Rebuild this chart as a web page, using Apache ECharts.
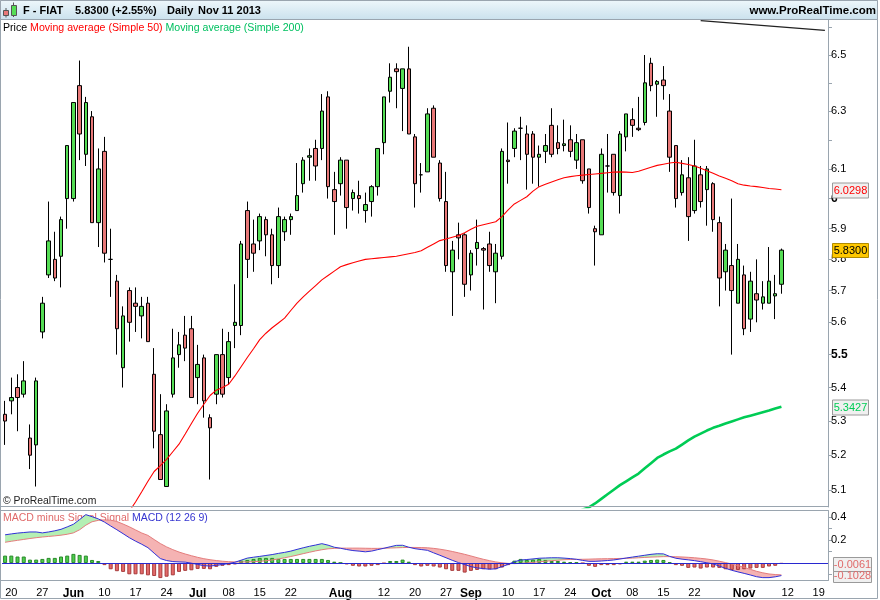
<!DOCTYPE html>
<html><head><meta charset="utf-8">
<script src="https://cdn.jsdelivr.net/npm/echarts@6.0.0/dist/echarts.min.js"></script>
<style>html,body{margin:0;padding:0;background:#fff}#c{width:880px;height:600px}</style>
</head><body><div id="c"></div>
<script>
// ---------- DATA ----------
const dates = [
'05-17','05-20','05-21','05-22','05-23','05-24','05-27','05-28','05-29','05-30','05-31',
'06-03','06-04','06-05','06-06','06-07','06-10','06-11','06-12','06-13','06-14','06-17','06-18','06-19','06-20','06-21','06-24','06-25','06-26','06-27','06-28',
'07-01','07-02','07-03','07-04','07-05','07-08','07-09','07-10','07-11','07-12','07-15','07-16','07-17','07-18','07-19','07-22','07-23','07-24','07-25','07-26','07-29','07-30','07-31',
'08-01','08-02','08-05','08-06','08-07','08-08','08-09','08-12','08-13','08-14','08-16','08-19','08-20','08-21','08-22','08-23','08-26','08-27','08-28','08-29','08-30',
'09-02','09-03','09-04','09-05','09-06','09-09','09-10','09-11','09-12','09-13','09-16','09-17','09-18','09-19','09-20','09-23','09-24','09-25','09-26','09-27','09-30',
'10-01','10-02','10-03','10-04','10-07','10-08','10-09','10-10','10-11','10-14','10-15','10-16','10-17','10-18','10-21','10-22','10-23','10-24','10-25','10-28','10-29','10-30','10-31',
'11-01','11-04','11-05','11-06','11-07','11-08','11-11',
'11-12','11-13','11-14','11-15','11-18','11-19','11-20'];

const opens = [5.32,5.36,5.40,5.38,5.25,5.23,5.57,5.75,5.80,5.81,
6.00,6.00,6.39,6.15,6.28,5.92,6.16,5.80,5.73,5.46,
5.70,5.66,5.62,5.66,5.44,5.26,5.11,5.38,5.50,5.56,
5.58,5.43,5.49,5.31,5.38,5.50,5.43,5.59,5.59,5.96,
5.85,5.86,5.93,5.88,5.78,5.89,5.93,5.96,6.05,6.14,
6.17,6.17,6.35,6.03,6.05,6.13,6.00,6.01,5.96,5.99,
6.04,6.19,6.37,6.45,6.38,6.45,6.21,6.08,6.09,6.31,
6.12,5.99,5.76,5.88,5.88,5.75,5.835,5.835,5.85,5.76,
5.81,6.13,6.17,6.24,6.22,6.22,6.14,6.16,6.25,6.19,
6.18,6.20,6.13,6.20,6.10,5.90,5.88,6.11,6.15,6.01,
6.21,6.27,6.24,6.26,6.47,6.395,6.41,6.30,6.18,6.02,
6.07,5.96,6.08,6.03,6.05,5.92,5.76,5.78,5.66,5.75,
5.61,5.69,5.66,5.66,5.683,5.72];
const highs = [5.36,5.43,5.44,5.48,5.29,5.43,5.68,5.99,5.89,5.94,
6.18,6.33,6.48,6.35,6.30,6.17,6.21,5.90,5.75,5.65,
5.71,5.71,5.68,5.68,5.52,5.38,5.35,5.58,5.57,5.62,
5.62,5.53,5.50,5.32,5.50,5.58,5.57,5.72,5.86,5.99,
5.93,5.95,5.94,5.90,5.97,5.94,5.95,6.12,6.14,6.17,
6.20,6.36,6.37,6.09,6.14,6.13,6.03,6.06,6.02,6.045,
6.17,6.35,6.47,6.47,6.45,6.53,6.22,6.12,6.31,6.32,
6.13,6.09,5.86,5.92,5.885,5.83,5.93,5.84,5.89,5.85,
6.17,6.26,6.24,6.28,6.25,6.23,6.18,6.22,6.31,6.25,
6.27,6.25,6.22,6.20,6.10,5.91,6.17,6.22,6.15,6.23,
6.29,6.31,6.35,6.50,6.49,6.41,6.46,6.36,6.18,6.13,
6.14,6.20,6.11,6.11,6.055,5.94,5.85,6.00,5.85,5.78,
5.76,5.80,5.73,5.84,5.75,5.835];
const lows = [5.23,5.32,5.27,5.37,5.16,5.11,5.55,5.74,5.73,5.71,
5.90,5.99,6.13,6.11,5.92,5.84,5.79,5.68,5.50,5.40,
5.54,5.57,5.55,5.54,5.22,5.13,5.11,5.37,5.46,5.48,
5.37,5.35,5.31,5.13,5.35,5.37,5.41,5.52,5.56,5.74,
5.76,5.83,5.81,5.72,5.74,5.86,5.88,5.96,6.02,6.06,
6.06,6.13,6.00,5.88,6.01,5.90,5.96,5.95,5.92,5.94,
6.01,6.15,6.33,6.31,6.23,6.22,5.97,6.02,6.09,6.14,
5.99,5.76,5.62,5.80,5.68,5.70,5.78,5.64,5.76,5.66,
5.80,6.05,6.14,6.13,6.03,6.05,6.04,6.12,6.14,6.15,
6.16,6.14,6.10,6.05,5.95,5.78,5.88,6.02,6.01,5.95,
6.16,6.21,6.23,6.25,6.37,6.28,6.34,6.09,5.97,6.01,
5.86,5.95,5.97,5.91,5.89,5.65,5.70,5.50,5.66,5.56,
5.57,5.60,5.64,5.66,5.61,5.69];
const closes = [5.30,5.37,5.37,5.42,5.20,5.42,5.66,5.86,5.74,5.93,
6.18,6.33,6.22,6.33,5.92,6.10,5.82,5.80,5.58,5.62,
5.60,5.65,5.65,5.54,5.27,5.13,5.33,5.49,5.53,5.52,
5.37,5.47,5.36,5.28,5.50,5.38,5.54,5.60,5.85,5.80,
5.82,5.94,5.88,5.78,5.94,5.93,5.94,6.01,6.13,6.145,
6.11,6.30,6.04,5.99,6.13,5.97,6.02,6.00,5.98,6.04,
6.17,6.35,6.42,6.44,6.45,6.22,6.05,6.08,6.29,6.14,
6.00,5.78,5.83,5.87,5.72,5.82,5.855,5.83,5.78,5.82,
6.16,6.125,6.23,6.24,6.15,6.14,6.15,6.18,6.15,6.17,
6.186,6.16,6.19,6.06,5.97,5.89,6.15,6.11,6.02,6.22,
6.29,6.25,6.235,6.40,6.39,6.405,6.39,6.14,6.00,6.08,
5.94,6.11,5.99,6.10,5.93,5.74,5.83,5.70,5.80,5.58,
5.73,5.67,5.68,5.73,5.69,5.83];

const ma50 = [null,null,null,null,null,null,null,null,null,null,
null,null,null,null,null,null,null,null,null,5.01,
5.040,5.066,5.095,5.125,5.153,5.170,5.188,5.210,5.232,5.262,
5.293,5.323,5.350,5.376,5.392,5.400,5.410,5.435,5.463,5.491,
5.518,5.546,5.566,5.583,5.598,5.613,5.637,5.660,5.680,5.698,
5.716,5.734,5.748,5.762,5.776,5.783,5.789,5.795,5.800,5.802,
5.804,5.806,5.808,5.810,5.814,5.818,5.822,5.828,5.839,5.850,
5.861,5.866,5.872,5.878,5.887,5.898,5.908,5.913,5.918,5.923,
5.940,5.962,5.982,5.994,6.006,6.025,6.040,6.048,6.056,6.063,
6.070,6.074,6.077,6.079,6.081,6.083,6.085,6.087,6.089,6.090,
6.089,6.088,6.092,6.099,6.106,6.112,6.116,6.120,6.123,6.119,
6.115,6.110,6.102,6.094,6.085,6.076,6.068,6.060,6.050,6.045,
6.042,6.040,6.037,6.034,6.032,6.0298];

const ma200 = [null,null,null,null,null,null,null,null,null,null,
null,null,null,null,null,null,null,null,null,null,
null,null,null,null,null,null,null,null,null,null,
null,null,null,null,null,null,null,null,null,null,
null,null,null,null,null,null,null,null,null,null,
null,null,null,null,null,null,null,null,null,null,
null,null,null,null,null,null,null,null,null,null,
null,null,null,null,null,null,null,null,null,null,
null,null,null,null,null,null,null,null,null,null,
null,null,5.035,5.045,5.051,5.062,5.075,5.088,5.101,5.114,
5.125,5.136,5.147,5.162,5.177,5.192,5.202,5.211,5.219,5.231,
5.243,5.254,5.263,5.272,5.280,5.286,5.293,5.299,5.305,5.311,
5.316,5.321,5.326,5.331,5.337,5.3427];

const macd = [0.246,0.254,0.261,0.266,0.271,0.271,0.263,0.271,0.281,0.294,
0.315,0.338,0.379,0.422,0.404,0.385,0.357,0.323,0.290,0.256,
0.221,0.191,0.164,0.134,0.086,0.039,0.022,0.013,0.010,0.008,
-0.001,-0.012,-0.023,-0.026,-0.020,-0.013,-0.004,0.007,0.025,0.043,
0.051,0.058,0.066,0.074,0.084,0.093,0.104,0.119,0.133,0.146,
0.157,0.169,0.156,0.138,0.129,0.118,0.109,0.104,0.098,0.104,
0.117,0.129,0.142,0.154,0.155,0.138,0.125,0.118,0.111,0.089,
0.068,0.046,0.024,0.004,-0.013,-0.031,-0.042,-0.048,-0.054,-0.050,
-0.031,-0.012,0.012,0.026,0.031,0.036,0.042,0.044,0.046,0.046,
0.043,0.039,0.033,0.023,0.015,0.015,0.018,0.022,0.027,0.035,
0.044,0.052,0.060,0.068,0.076,0.081,0.080,0.058,0.042,0.034,
0.028,0.021,0.012,0.002,-0.007,-0.027,-0.046,-0.063,-0.077,-0.090,
-0.104,-0.119,-0.127,-0.127,-0.120,-0.109];

const signal = [0.181,0.190,0.198,0.206,0.214,0.221,0.227,0.232,0.237,0.243,
0.251,0.263,0.290,0.330,0.360,0.372,0.376,0.374,0.362,0.340,
0.316,0.289,0.262,0.241,0.205,0.170,0.141,0.117,0.096,0.079,
0.064,0.050,0.038,0.029,0.022,0.016,0.012,0.010,0.009,0.010,
0.012,0.015,0.020,0.027,0.036,0.046,0.057,0.069,0.082,0.094,
0.106,0.116,0.124,0.128,0.130,0.130,0.130,0.130,0.129,0.128,
0.128,0.129,0.131,0.133,0.135,0.136,0.136,0.135,0.133,0.128,
0.121,0.112,0.101,0.089,0.076,0.062,0.047,0.033,0.021,0.010,
0.002,-0.003,-0.005,-0.003,0.001,0.006,0.011,0.016,0.021,0.025,
0.029,0.031,0.032,0.033,0.034,0.036,0.037,0.038,0.039,0.040,
0.041,0.043,0.046,0.049,0.052,0.054,0.056,0.056,0.055,0.053,
0.050,0.046,0.041,0.035,0.027,0.016,0.004,-0.008,-0.022,-0.038,
-0.055,-0.072,-0.085,-0.095,-0.100,-0.103];

const hist = [0.065,0.065,0.057,0.057,0.030,0.030,0.036,0.045,0.045,0.057,
0.065,0.080,0.071,0.065,0.027,0.018,-0.018,-0.054,-0.071,-0.077,
-0.098,-0.098,-0.098,-0.107,-0.113,-0.131,-0.119,-0.107,-0.077,-0.068,
-0.063,-0.051,-0.051,-0.054,-0.033,-0.024,-0.018,-0.012,0.021,0.027,
0.036,0.045,0.045,0.045,0.036,0.036,0.036,0.036,0.036,0.036,
0.036,0.036,0.027,0.012,0.003,-0.012,-0.024,-0.030,-0.030,-0.024,
-0.018,-0.003,0.018,0.018,0.030,0.012,-0.018,-0.030,-0.024,-0.030,
-0.039,-0.054,-0.068,-0.068,-0.083,-0.068,-0.060,-0.054,-0.054,-0.054,
-0.039,-0.018,0.021,0.036,0.027,0.030,0.036,0.027,0.018,0.018,
0.012,0.006,0.006,-0.002,-0.024,-0.033,-0.018,-0.018,-0.018,-0.012,
0.012,0.012,0.012,0.021,0.027,0.030,0.027,0.006,-0.018,-0.024,
-0.042,-0.039,-0.048,-0.039,-0.039,-0.042,-0.054,-0.060,-0.060,-0.054,
-0.048,-0.042,-0.042,-0.030,-0.024,-0.0061];

const xTickIdx  = [1,6,11,16,21,26,31,36,41,46,54,61,66,71,75,81,86,91,96,101,106,111,119,126,131];
const xTickText = ['20','27','Jun','10','17','24','Jul','08','15','22','Aug','12','20','27','Sep','10','17','24','Oct','08','15','22','Nov','12','19'];
const monthNames = ['Jun','Jul','Aug','Sep','Oct','Nov'];

const priceTicks  = [5.1,5.2,5.3,5.4,5.5,5.6,5.7,5.8,5.9,6.0,6.1,6.2,6.3,6.4,6.5,6.6];
const priceLabels = [5.1,5.2,5.3,5.4,5.5,5.6,5.7,5.8,5.9,6.0,6.1,6.3,6.5];
const macdTicks   = [-0.1,0.1,0.2,0.3,0.4];
const macdLabels  = [0.2,0.4];

const trendLine = [[112, 6.626], [132, 6.59]];

const lastPrice = 5.83, lastMa50 = 6.0298, lastMa200 = 5.3427, lastHist = -0.0061, lastSignal = -0.1028;

// ---------- CHART ----------
const FONT = '"Liberation Sans", Arial, sans-serif';
const GRAY = '#9aa5af';
const chart = echarts.init(document.getElementById('c'), null, {renderer: 'canvas'});

const candleData = opens.map((o, i) => [o, closes[i], lows[i], highs[i]]);
const xLabelMap = {};
xTickIdx.forEach((k, j) => { xLabelMap[k] = xTickText[j]; });
const fillBase = macd.map((m, i) => Math.min(m, signal[i]));
const fillPos  = macd.map((m, i) => Math.max(m - signal[i], 0));
const fillNeg  = macd.map((m, i) => Math.max(signal[i] - m, 0));
const histData = hist.map(v => ({
  value: v,
  itemStyle: v >= 0 ? {color: '#4ccd4c', borderColor: '#2a8a2a'} : {color: '#e36a6a', borderColor: '#a83c3c'}
}));

const option = {
  animation: false,
  backgroundColor: '#ffffff',
  grid: [
    {left: 2, right: 52, top: 19.5, height: 487.5},
    {left: 2, right: 52, top: 510.5, height: 70}
  ],
  xAxis: [
    {type: 'category', gridIndex: 0, data: dates, boundaryGap: true,
     axisLine: {show: false}, axisTick: {show: false}, axisLabel: {show: false}, splitLine: {show: false}},
    {type: 'category', gridIndex: 1, data: dates, boundaryGap: true,
     axisLine: {show: false}, axisTick: {show: false}, splitLine: {show: false},
     axisLabel: {
       show: true, margin: 7, color: '#000', fontSize: 11, fontFamily: FONT,
       interval: (i) => xLabelMap[i] !== undefined,
       formatter: (v, i) => { const t = xLabelMap[i]; if (t === undefined) return ''; return monthNames.includes(t) ? '{m|' + t + '}' : t; },
       rich: {m: {fontWeight: 'bold', fontSize: 12, fontFamily: FONT, color: '#000'}}
     }}
  ],
  yAxis: [
    {type: 'log', gridIndex: 0, position: 'right', min: 5.052, max: 6.630,
     axisLine: {show: true, lineStyle: {color: GRAY, width: 1}},
     axisTick: {show: true, length: 4, customValues: priceTicks, lineStyle: {color: GRAY}},
     axisLabel: {show: true, customValues: priceLabels, margin: 3, color: '#000', fontSize: 11, fontFamily: FONT,
       formatter: (v) => { const s = (Math.round(v * 10) / 10).toFixed(1); if (s === '6.0') return '{b|6}'; if (s === '5.5') return '{b|5.5}'; return s; },
       rich: {b: {fontWeight: 'bold', fontSize: 12, fontFamily: FONT, color: '#000'}}},
     splitLine: {show: false}},
    {type: 'value', gridIndex: 1, position: 'right', min: -0.152, max: 0.458,
     axisLine: {show: true, lineStyle: {color: GRAY, width: 1}},
     axisTick: {show: true, length: 4, customValues: macdTicks, lineStyle: {color: GRAY}},
     axisLabel: {show: true, customValues: macdLabels, margin: 3, color: '#000', fontSize: 11, fontFamily: FONT,
       formatter: (v) => (Math.round(v * 10) / 10).toFixed(1)},
     splitLine: {show: false}}
  ],
  series: [
    {type: 'candlestick', name: 'Price', xAxisIndex: 0, yAxisIndex: 0, data: candleData, barWidth: 4,
     itemStyle: {color: '#55dd55', color0: '#e87878', borderColor: '#000', borderColor0: '#000', borderColorDoji: '#000', borderWidth: 1},
     markLine: {silent: true, symbol: ['none', 'none'], label: {show: false},
       lineStyle: {color: '#222', width: 1.4, type: 'solid'},
       data: [[{coord: trendLine[0]}, {coord: trendLine[1]}]]},
     z: 3},
    {type: 'line', name: 'MA50', xAxisIndex: 0, yAxisIndex: 0, data: ma50, symbol: 'none', showSymbol: false,
     lineStyle: {color: '#ff0000', width: 1.1}, z: 4},
    {type: 'line', name: 'MA200', xAxisIndex: 0, yAxisIndex: 0, data: ma200, symbol: 'none', showSymbol: false,
     lineStyle: {color: '#00cc55', width: 2.6}, z: 4},
    {type: 'line', name: 'fillBase', xAxisIndex: 1, yAxisIndex: 1, data: fillBase, stack: 'mf', stackStrategy: 'all',
     symbol: 'none', lineStyle: {width: 0, opacity: 0}, z: 1},
    {type: 'line', name: 'fillPos', xAxisIndex: 1, yAxisIndex: 1, data: fillPos, stack: 'mf', stackStrategy: 'all',
     symbol: 'none', lineStyle: {width: 0, opacity: 0}, areaStyle: {color: '#b4efb4', opacity: 1}, z: 1},
    {type: 'line', name: 'fillNeg', xAxisIndex: 1, yAxisIndex: 1, data: fillNeg, stack: 'mf', stackStrategy: 'all',
     symbol: 'none', lineStyle: {width: 0, opacity: 0}, areaStyle: {color: '#f5b3b3', opacity: 1}, z: 1},
    {type: 'bar', name: 'MACD minus Signal', xAxisIndex: 1, yAxisIndex: 1, data: histData, barWidth: 4,
     itemStyle: {borderWidth: 1}, z: 2,
     markLine: {silent: true, symbol: ['none', 'none'], label: {show: false},
       lineStyle: {color: '#2828d0', width: 1, type: 'solid'}, data: [{yAxis: 0}]}},
    {type: 'line', name: 'Signal', xAxisIndex: 1, yAxisIndex: 1, data: signal, symbol: 'none',
     lineStyle: {color: '#e47d7d', width: 1}, z: 3},
    {type: 'line', name: 'MACD', xAxisIndex: 1, yAxisIndex: 1, data: macd, symbol: 'none',
     lineStyle: {color: '#3030d8', width: 1}, z: 4}
  ]
};
chart.setOption(option);

// ---------- DECORATIONS ----------
function tag(yAxisIndex, val, text, color, bg, border, x, w, h) {
  const y = Math.round(chart.convertToPixel({yAxisIndex: yAxisIndex}, val));
  return {type: 'group', z: 100, children: [
    {type: 'rect', z: 100, shape: {x: x + 0.5, y: y - h / 2 + 0.5, width: w, height: h}, style: {fill: bg, stroke: border, lineWidth: 1}},
    {type: 'text', z: 101, x: x + 0.5 + w / 2, y: y + 0.5, style: {text: text, fill: color, font: '11px ' + FONT, align: 'center', verticalAlign: 'middle'}}
  ]};
}

const headerGrad = new echarts.graphic.LinearGradient(0, 0, 0, 1, [
  {offset: 0, color: '#eef7fb'}, {offset: 1, color: '#cae1ed'}
]);
const HF = 'bold 11px ' + FONT;
const LF = '10.6px ' + FONT;

const graphics = [
  {type: 'rect', z: 50, shape: {x: 0.5, y: 0.5, width: 877, height: 598}, style: {fill: 'none', stroke: GRAY, lineWidth: 1}},
  {type: 'rect', z: 50, shape: {x: 0.5, y: 0.5, width: 877, height: 19}, style: {fill: headerGrad, stroke: GRAY, lineWidth: 1}},
  {type: 'line', z: 51, shape: {x1: 6, y1: 8, x2: 6, y2: 17.5}, style: {stroke: '#555', lineWidth: 1}},
  {type: 'rect', z: 51, shape: {x: 3.5, y: 10.5, width: 5, height: 5}, style: {fill: '#e87878', stroke: '#555', lineWidth: 1}},
  {type: 'line', z: 51, shape: {x1: 13.5, y1: 2.5, x2: 13.5, y2: 17}, style: {stroke: '#555', lineWidth: 1}},
  {type: 'rect', z: 51, shape: {x: 11.5, y: 5.5, width: 5, height: 10}, style: {fill: '#55dd55', stroke: '#555', lineWidth: 1}},
  {type: 'text', z: 51, x: 23, y: 11, style: {text: 'F - FIAT', fill: '#000', font: HF, verticalAlign: 'middle'}},
  {type: 'text', z: 51, x: 75, y: 11, style: {text: '5.8300 (+2.55%)', fill: '#000', font: HF, verticalAlign: 'middle'}},
  {type: 'text', z: 51, x: 167, y: 11, style: {text: 'Daily', fill: '#000', font: HF, verticalAlign: 'middle'}},
  {type: 'text', z: 51, x: 198, y: 11, style: {text: 'Nov 11 2013', fill: '#000', font: HF, verticalAlign: 'middle'}},
  {type: 'text', z: 51, x: 876, y: 11, style: {text: 'www.ProRealTime.com', fill: '#000', font: 'bold 11.5px ' + FONT, align: 'right', verticalAlign: 'middle'}},
  {type: 'line', z: 50, shape: {x1: 0, y1: 506.5, x2: 828, y2: 506.5}, style: {stroke: GRAY, lineWidth: 1}},
  {type: 'line', z: 50, shape: {x1: 0, y1: 510.5, x2: 828, y2: 510.5}, style: {stroke: GRAY, lineWidth: 1}},
  {type: 'line', z: 50, shape: {x1: 0, y1: 580.5, x2: 828, y2: 580.5}, style: {stroke: GRAY, lineWidth: 1}},
  {type: 'text', z: 0, x: 3, y: 28, style: {
    text: '{k|Price} {r|Moving average (Simple 50)} {g|Moving average (Simple 200)}',
    verticalAlign: 'middle', font: LF,
    rich: {k: {fill: '#000', font: LF}, r: {fill: '#ff0000', font: LF}, g: {fill: '#00c060', font: LF}}}},
  {type: 'text', z: 0, x: 3, y: 518, style: {
    text: '{r|MACD minus Signal Signal} {b|MACD (12 26 9)}',
    verticalAlign: 'middle', font: '10.5px ' + FONT,
    rich: {r: {fill: '#e06a6a', font: '10.5px ' + FONT}, b: {fill: '#3535d0', font: '10.5px ' + FONT}}}},
  {type: 'text', z: 0, x: 3, y: 501, style: {text: '\u00a9 ProRealTime.com', fill: '#222', font: '10.4px ' + FONT, verticalAlign: 'middle'}},
  tag(0, lastMa50, '6.0298', '#ff0000', '#f0f0f0', '#9a9a9a', 832, 36, 15),
  tag(0, lastPrice, '5.8300', '#000000', '#ffc800', '#b08a00', 832, 36, 14),
  tag(0, lastMa200, '5.3427', '#00cc55', '#f0f0f0', '#9a9a9a', 832, 36, 15),
  tag(1, lastSignal, '-0.1028', '#e06a6a', '#f0f0f0', '#9a9a9a', 833, 38, 14),
  tag(1, lastHist, '-0.0061', '#e06a6a', '#f0f0f0', '#9a9a9a', 833, 38, 14)
];
chart.setOption({graphic: graphics});
</script>
</body></html>
